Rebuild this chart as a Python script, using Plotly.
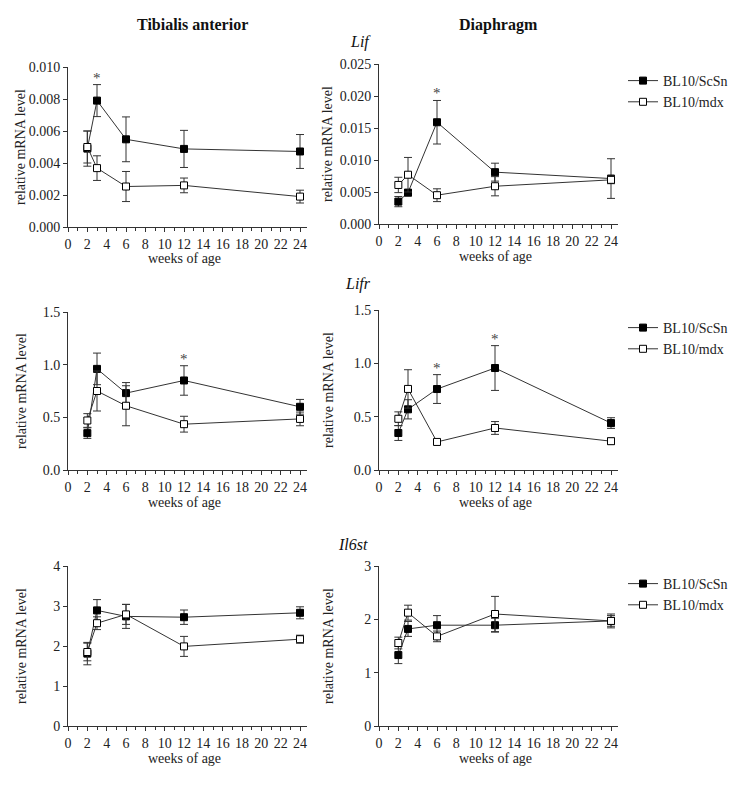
import plotly.graph_objects as go

weeks = [2, 3, 6, 12, 24]
series_names = ["BL10/ScSn", "BL10/mdx"]

# TA Lif
ta_lif_scsn = [0.0049, 0.0079, 0.00548, 0.00488, 0.00472]
ta_lif_scsn_err = [0.0011, 0.0010, 0.0014, 0.00116, 0.00106]
ta_lif_mdx = [0.0050, 0.00368, 0.00253, 0.0026, 0.0019]
ta_lif_mdx_err = [0.0010, 0.00077, 0.00094, 0.00046, 0.0004]
# Diaphragm Lif
di_lif_scsn = [0.0035, 0.0049, 0.0159, 0.0081, 0.0071]
di_lif_scsn_err = [0.0008, 0.0005, 0.0034, 0.0014, 0.0031]
di_lif_mdx = [0.0061, 0.0077, 0.0045, 0.0059, 0.0069]
di_lif_mdx_err = [0.0012, 0.0027, 0.0010, 0.0015, 0.0006]
# TA Lifr
ta_lifr_scsn = [0.35, 0.96, 0.73, 0.85, 0.60]
ta_lifr_scsn_err = [0.05, 0.15, 0.10, 0.14, 0.07]
ta_lifr_mdx = [0.47, 0.75, 0.61, 0.435, 0.485]
ta_lifr_mdx_err = [0.065, 0.19, 0.19, 0.075, 0.065]
# Diaphragm Lifr
di_lifr_scsn = [0.347, 0.569, 0.759, 0.956, 0.44]
di_lifr_scsn_err = [0.07, 0.09, 0.135, 0.21, 0.05]
di_lifr_mdx = [0.48, 0.76, 0.263, 0.394, 0.27]
di_lifr_mdx_err = [0.065, 0.18, 0.02, 0.06, 0.03]
# TA Il6st
ta_il6_scsn = [1.81, 2.89, 2.74, 2.72, 2.83]
ta_il6_scsn_err = [0.28, 0.27, 0.30, 0.18, 0.15]
ta_il6_mdx = [1.85, 2.57, 2.79, 1.99, 2.17]
ta_il6_mdx_err = [0.22, 0.16, 0.25, 0.25, 0.10]
# Diaphragm Il6st
di_il6_scsn = [1.33, 1.82, 1.89, 1.89, 1.97]
di_il6_scsn_err = [0.16, 0.14, 0.18, 0.13, 0.13]
di_il6_mdx = [1.556, 2.125, 1.68, 2.10, 1.97]
di_il6_mdx_err = [0.11, 0.14, 0.10, 0.33, 0.10]

# significance stars: (panel index, week, y)
stars = [(0, 3, 0.0093), (1, 6, 0.0205), (2, 12, 1.05), (3, 6, 0.96), (3, 12, 1.23)]

panels = [
    (ta_lif_scsn, ta_lif_scsn_err, ta_lif_mdx, ta_lif_mdx_err, [0, 0.010], [0, 0.002, 0.004, 0.006, 0.008, 0.010], "%.3f"),
    (di_lif_scsn, di_lif_scsn_err, di_lif_mdx, di_lif_mdx_err, [0, 0.025], [0, 0.005, 0.010, 0.015, 0.020, 0.025], "%.3f"),
    (ta_lifr_scsn, ta_lifr_scsn_err, ta_lifr_mdx, ta_lifr_mdx_err, [0, 1.5], [0, 0.5, 1.0, 1.5], "%.1f"),
    (di_lifr_scsn, di_lifr_scsn_err, di_lifr_mdx, di_lifr_mdx_err, [0, 1.5], [0, 0.5, 1.0, 1.5], "%.1f"),
    (ta_il6_scsn, ta_il6_scsn_err, ta_il6_mdx, ta_il6_mdx_err, [0, 4], [0, 1, 2, 3, 4], "%d"),
    (di_il6_scsn, di_il6_scsn_err, di_il6_mdx, di_il6_mdx_err, [0, 3], [0, 1, 2, 3], "%d"),
]

W, H = 756, 788
OX, OY = 8, 8  # page body margin offset

def fx(p):
    return (p - OX) / W

def fy(p):
    return 1 - (p - OY) / H

# target pixel layout in the screenshot: (x0, x24, ytop, ybottom)
px = [
    (68, 300, 67, 227), (379, 611, 64, 224),
    (68, 300, 312, 470), (379, 611, 310, 470),
    (68, 300, 566, 726), (379, 611, 566, 726),
]
legend_y = [75, 322, 578]

FONT = "Liberation Serif"
TXT = "#222"
fig = go.Figure()
layout = dict(
    width=W, height=H, margin=dict(l=0, r=0, t=0, b=0, autoexpand=False),
    paper_bgcolor="white", plot_bgcolor="white",
    font=dict(family=FONT, size=13, color=TXT),
    annotations=[],
)

xmax = 24.75
for i, (s, se, m, me, yr, yt, fmt) in enumerate(panels):
    x0, x24, yt_px, yb_px = px[i]
    sc = (x24 - x0) / 24.0
    xend = x0 + xmax * sc
    xa = "x" if i == 0 else f"x{i+1}"
    ya = "y" if i == 0 else f"y{i+1}"
    lg = "legend" if i // 2 == 0 else f"legend{i//2+1}"
    show = (i % 2 == 1)
    for name, vals, errs, fill in [(series_names[0], s, se, "black"), (series_names[1], m, me, "white")]:
        fig.add_trace(go.Scatter(
            x=weeks, y=vals, name=name, mode="lines+markers",
            xaxis=xa, yaxis=ya, legend=lg, showlegend=show,
            line=dict(color="#333", width=1),
            marker=dict(symbol="square", size=7, color=fill, line=dict(color="black", width=1)),
            error_y=dict(type="data", array=errs, visible=True, color="#333", thickness=1, width=4),
            cliponaxis=False,
        ))
    axkey = "xaxis" if i == 0 else f"xaxis{i+1}"
    aykey = "yaxis" if i == 0 else f"yaxis{i+1}"
    layout[axkey] = dict(
        domain=[fx(x0), fx(xend)], range=[0, xmax], anchor=ya, automargin=False,
        tickmode="array", tickvals=list(range(0, 25, 2)),
        ticks="outside", ticklen=4, tickwidth=1, tickcolor="#333",
        minor=dict(tickmode="array", tickvals=list(range(1, 25, 2)), ticks="outside", ticklen=3, tickwidth=1, tickcolor="#333"),
        showline=True, linecolor="#333", linewidth=1, showgrid=False, zeroline=False,
        tickfont=dict(size=14, family=FONT, color=TXT),
    )
    layout[aykey] = dict(
        domain=[fy(yb_px), fy(yt_px)], range=yr, anchor=xa, automargin=False,
        tickmode="array", tickvals=yt, ticktext=[fmt % v for v in yt],
        ticks="outside", ticklen=4, tickwidth=1, tickcolor="#333",
        showline=True, linecolor="#333", linewidth=1, showgrid=False, zeroline=False,
        tickfont=dict(size=14, family=FONT, color=TXT),
    )
    # y axis title
    layout["annotations"].append(dict(
        text="relative mRNA level", textangle=-90, xref="paper", yref="paper",
        x=fx(x0 - 47 if i % 2 == 0 else x0 - 51), y=fy((yt_px + yb_px) / 2),
        xanchor="center", yanchor="middle",
        showarrow=False, font=dict(size=14, family=FONT, color=TXT),
    ))
    # x axis title
    layout["annotations"].append(dict(
        text="weeks of age", xref="paper", yref="paper",
        x=fx(x0 + 12 * sc), y=fy(yb_px + 32), xanchor="center", yanchor="middle",
        showarrow=False, font=dict(size=14, family=FONT, color=TXT),
    ))

for (pi, wk, yv) in stars:
    xa = "x" if pi == 0 else f"x{pi+1}"
    ya = "y" if pi == 0 else f"y{pi+1}"
    layout["annotations"].append(dict(
        text="*", x=wk, y=yv, xref=xa, yref=ya, showarrow=False,
        xanchor="center", yanchor="middle",
        font=dict(size=15, family=FONT, color="#444"),
    ))

titles = [("<b>Tibialis anterior</b>", 192, 25), ("<b>Diaphragm</b>", 498, 25),
          ("<i>Lif</i>", 360, 42), ("<i>Lifr</i>", 358, 284), ("<i>Il6st</i>", 353, 544)]
for t, x, y in titles:
    layout["annotations"].append(dict(
        text=t, xref="paper", yref="paper", x=fx(x), y=fy(y),
        xanchor="center", yanchor="middle",
        showarrow=False, font=dict(size=16, family=FONT, color="#111"),
    ))

for k, ly in enumerate(legend_y):
    key = "legend" if k == 0 else f"legend{k+1}"
    layout[key] = dict(
        x=fx(623), y=fy(ly - 10), xanchor="left", yanchor="top",
        bgcolor="rgba(0,0,0,0)", tracegroupgap=0, itemwidth=30,
        font=dict(size=14, family=FONT, color=TXT),
    )

fig.update_layout(**layout)
fig.write_html("out.html")
